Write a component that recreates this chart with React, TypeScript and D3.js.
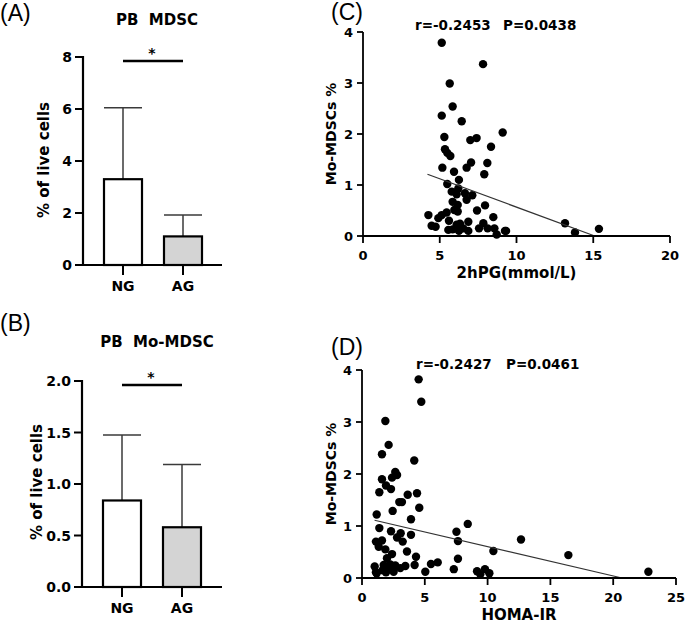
import React from "react";
import * as d3 from "d3";

// bar panels (A, B)
const groups = ["NG", "AG"];
const mdscMean = [3.3, 1.1];
const mdscSD = [2.75, 0.82];
const moMean = [0.84, 0.58];
const moSD = [0.635, 0.61];
const ticksA = [0, 2, 4, 6, 8];
const ticksB = [0, 0.5, 1.0, 1.5, 2.0];
const barFill = ["#ffffff", "#d4d4d4"];

// scatter C: 2hPG vs Mo-MDSCs %
const hpgX = [5.13, 7.82, 5.65, 5.84, 5.13, 6.43, 9.1, 5.3, 6.99, 7.4, 8.34, 5.34, 5.49, 5.69, 5.17, 7.04, 6.75, 8.1, 5.93, 7.9,
  6.25, 5.49, 6.21, 5.78, 6.1, 6.64, 7.12, 6.75, 5.84, 6.17, 7.95, 5.95, 6.17, 7.43, 5.45, 5.13, 4.26, 4.91, 8.49, 4.47,
  4.73, 5.56, 6.1, 6.32, 6.86, 6.86, 6.53, 7.56, 7.84, 8.12, 8.56, 8.71, 9.25, 5.84, 6.25, 9.32, 13.16, 13.81, 15.37, 5.6];
const hpgY = [3.79, 3.37, 2.99, 2.54, 2.36, 2.25, 2.03, 1.94, 1.88, 1.92, 1.75, 1.7, 1.63, 1.57, 1.34, 1.44, 1.34, 1.43, 1.26, 1.21,
  1.1, 1.02, 0.93, 0.87, 0.82, 0.84, 0.8, 0.71, 0.67, 0.61, 0.6, 0.51, 0.48, 0.5, 0.46, 0.41, 0.41, 0.35, 0.37, 0.2,
  0.18, 0.12, 0.22, 0.24, 0.28, 0.1, 0.15, 0.15, 0.25, 0.15, 0.15, 0.03, 0.1, 0.13, 0.1, 0.1, 0.25, 0.07, 0.14, 0.3];
const fitC = [[4.2, 1.21], [15.1, 0]];
const ticksCx = [0, 5, 10, 15, 20];

// scatter D: HOMA-IR vs Mo-MDSCs %
const homaX = [4.51, 4.72, 1.86, 2.12, 1.59, 4.16, 2.65, 2.79, 2.39, 1.59, 1.91, 2.31, 1.38, 3.64, 4.38, 2.97, 3.18, 4.56, 2.44, 1.17,
  3.9, 1.38, 2.31, 3.08, 2.79, 3.9, 3.24, 1.11, 1.59, 1.33, 1.86, 3.58, 2.39, 1.99, 4.3, 1.01, 1.73, 2.25, 2.65, 3.45,
  4.19, 1.11, 1.91, 2.52, 3.05, 5.04, 5.49, 6.03, 7.31, 7.52, 7.64, 8.42, 7.64, 9.16, 9.42, 1.65, 2.12, 9.79, 10.14, 10.46,
  12.66, 16.43, 22.8, 1.17];
const homaY = [3.82, 3.39, 3.02, 2.56, 2.38, 2.26, 2.04, 1.98, 1.93, 1.9, 1.78, 1.71, 1.65, 1.6, 1.63, 1.46, 1.46, 1.35, 1.29, 1.22,
  1.13, 0.96, 0.9, 0.86, 0.78, 0.83, 0.7, 0.7, 0.72, 0.6, 0.55, 0.51, 0.46, 0.38, 0.41, 0.22, 0.25, 0.26, 0.24, 0.23,
  0.25, 0.11, 0.11, 0.12, 0.19, 0.12, 0.27, 0.3, 0.17, 0.89, 0.71, 1.04, 0.37, 0.13, 0.07, 0.15, 0.17, 0.17, 0.09, 0.52,
  0.74, 0.44, 0.12, 0.09];
const fitD = [[1.0, 1.11], [20.7, 0]];
const ticksDx = [0, 5, 10, 15, 20, 25];
const ticksY = [0, 1, 2, 3, 4];

const FONT = "DejaVu Sans";

const BarPanel = ({ letter, title, means, sds, ticks, fmt, x0, yZero, yTop, ymax, xEnd, labelPos, titleY, letterY }) => {
  const y = d3.scaleLinear().domain([0, ymax]).range([yZero, yTop]);
  const x = d3.scalePoint().domain(groups).range([x0 + 40, x0 + 100]);
  const bw = 38;
  const sigY = y(ymax) + 4;
  return (
    <g fontFamily={FONT} fontWeight="bold">
      <text x={0} y={letterY} fontFamily="Liberation Sans" fontWeight="normal" fontSize={23}>{letter}</text>
      <text x={157} y={titleY} fontSize={15} textAnchor="middle" style={{ whiteSpace: "pre" }}>{title}</text>
      <text transform={`translate(${labelPos[0]},${labelPos[1]}) rotate(-90)`} fontSize={15} textAnchor="middle">% of live cells</text>
      {groups.map((g, i) => (
        <g key={g}>
          <line x1={x(g)} x2={x(g)} y1={y(means[i])} y2={y(means[i] + sds[i])} stroke="#3a3a3a" strokeWidth={1.5} />
          <line x1={x(g) - bw / 2} x2={x(g) + bw / 2} y1={y(means[i] + sds[i])} y2={y(means[i] + sds[i])} stroke="#3a3a3a" strokeWidth={1.5} />
          <rect x={x(g) - bw / 2} y={y(means[i])} width={bw} height={yZero - y(means[i])} fill={barFill[i]} stroke="#000" strokeWidth={2.2} />
          <line x1={x(g)} x2={x(g)} y1={yZero} y2={yZero + 10} stroke="#000" strokeWidth={2} />
          <text x={x(g)} y={yZero + 26} fontSize={14} textAnchor="middle">{g}</text>
        </g>
      ))}
      <line x1={x0} x2={x0} y1={yTop - 1} y2={yZero} stroke="#000" strokeWidth={2.2} />
      <line x1={x0} x2={xEnd} y1={yZero} y2={yZero} stroke="#000" strokeWidth={2.2} />
      {ticks.map((t) => (
        <g key={t}>
          <line x1={x0 - 8} x2={x0} y1={y(t)} y2={y(t)} stroke="#000" strokeWidth={2} />
          <text x={x0 - 11} y={y(t)} dy="0.36em" fontSize={14} textAnchor="end">{fmt(t)}</text>
        </g>
      ))}
      <line x1={x("NG")} x2={x("AG")} y1={sigY} y2={sigY} stroke="#000" strokeWidth={2.5} />
      <text x={(x("NG") + x("AG")) / 2 - 1} y={sigY - 3} fontSize={14} textAnchor="middle">*</text>
    </g>
  );
};

const ScatterPanel = ({ letter, letterY, xs, ys, fit, xTicks, xDomain, xRange, yRange, xTitle, rText, pText, annY, rX, pX }) => {
  const x = d3.scaleLinear().domain(xDomain).range(xRange);
  const y = d3.scaleLinear().domain([0, 4]).range(yRange);
  const yZero = yRange[0];
  const line = d3.line().x((d) => x(d[0])).y((d) => y(d[1]));
  return (
    <g fontFamily={FONT} fontWeight="bold">
      <text x={331} y={letterY} fontFamily="Liberation Sans" fontWeight="normal" fontSize={23}>{letter}</text>
      <text x={rX} y={annY} fontSize={13.5}>{rText}</text>
      <text x={pX} y={annY} fontSize={13.5}>{pText}</text>
      <text transform={`translate(336,${(yRange[0] + yRange[1]) / 2}) rotate(-90)`} fontSize={14} textAnchor="middle">Mo-MDSCs %</text>
      {xs.map((v, i) => (
        <circle key={i} cx={x(v)} cy={y(ys[i])} r={4.2} fill="#000" />
      ))}
      <path d={line(fit)} fill="none" stroke="#333" strokeWidth={1.2} />
      <line x1={xRange[0]} x2={xRange[0]} y1={yRange[1]} y2={yZero} stroke="#000" strokeWidth={1.8} />
      <line x1={xRange[0]} x2={xRange[1]} y1={yZero} y2={yZero} stroke="#000" strokeWidth={1.8} />
      {ticksY.map((t) => (
        <g key={t}>
          <line x1={xRange[0] - 6} x2={xRange[0]} y1={y(t)} y2={y(t)} stroke="#000" strokeWidth={1.8} />
          <text x={xRange[0] - 10} y={y(t)} dy="0.36em" fontSize={13} textAnchor="end">{t}</text>
        </g>
      ))}
      {xTicks.map((t) => (
        <g key={t}>
          <line x1={x(t)} x2={x(t)} y1={yZero} y2={yZero + 7} stroke="#000" strokeWidth={1.8} />
          <text x={x(t)} y={yZero + 24} fontSize={13} textAnchor="middle">{t}</text>
        </g>
      ))}
      <text x={(xRange[0] + xRange[1]) / 2} y={yZero + 42} fontSize={15} textAnchor="middle">{xTitle}</text>
    </g>
  );
};

export default function App() {
  return (
    <svg width={685} height={632} style={{ position: "absolute", left: 0, top: 0, background: "#fff" }}>
      <BarPanel letter="(A)" title="PB  MDSC" means={mdscMean} sds={mdscSD} ticks={ticksA} fmt={d3.format("d")}
        x0={83} yZero={265} yTop={57} ymax={8} xEnd={222} labelPos={[49, 160]} titleY={25} letterY={21} />
      <BarPanel letter="(B)" title="PB  Mo-MDSC" means={moMean} sds={moSD} ticks={ticksB} fmt={d3.format(".1f")}
        x0={82} yZero={587} yTop={381} ymax={2} xEnd={222} labelPos={[42, 482]} titleY={347} letterY={331} />
      <ScatterPanel letter="(C)" letterY={20} xs={hpgX} ys={hpgY} fit={fitC} xTicks={ticksCx} xDomain={[0, 20]}
        xRange={[363, 670]} yRange={[236, 32]} xTitle="2hPG(mmol/L)" rText="r=-0.2453" pText="P=0.0438" annY={30} rX={415} pX={503} />
      <ScatterPanel letter="(D)" letterY={355} xs={homaX} ys={homaY} fit={fitD} xTicks={ticksDx} xDomain={[0, 25]}
        xRange={[362, 676]} yRange={[578, 370]} xTitle="HOMA-IR" rText="r=-0.2427" pText="P=0.0461" annY={369} rX={416} pX={506} />
    </svg>
  );
}
